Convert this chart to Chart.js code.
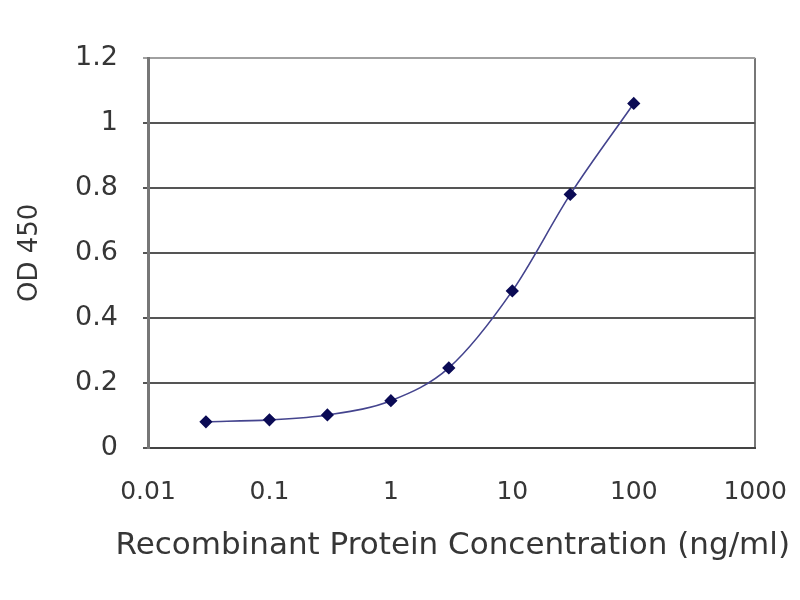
<!DOCTYPE html>
<html>
<head>
<meta charset="utf-8">
<script src="https://cdn.jsdelivr.net/npm/chart.js@4/dist/chart.umd.min.js"></script>
<style>
  html, body { margin: 0; padding: 0; background: #fff; }
  #wrap { width: 800px; height: 600px; }
</style>
</head>
<body>
<div id="wrap"><canvas id="myChart"></canvas></div>
<script>
const concentrations = [0.03, 0.1, 0.3, 1, 3, 10, 30, 100];
const od450 = [0.080, 0.086, 0.101, 0.145, 0.246, 0.483, 0.780, 1.060];
const xTicks = [0.01, 0.1, 1, 10, 100, 1000];
const yTicks = [0, 0.2, 0.4, 0.6, 0.8, 1, 1.2];

const TEXT_COLOR = '#363636';
const GRID_COLOR = '#555555';
const TOP_GRID_COLOR = '#a0a0a0';
const BORDER_COLOR = '#777777';
const POINT_COLOR = '#0b0b55';
const LINE_COLOR = '#44448e';
const FONT = 'DejaVu Sans';

const points = concentrations.map((c, i) => ({x: c, y: od450[i]}));

new Chart(document.getElementById('myChart'), {
  type: 'scatter',
  data: {
    datasets: [{
      data: points,
      showLine: true,
      borderColor: LINE_COLOR,
      borderWidth: 1.6,
      cubicInterpolationMode: 'monotone',
      pointStyle: 'rectRot',
      pointRadius: 5.5,
      pointHoverRadius: 5.5,
      pointBackgroundColor: POINT_COLOR,
      pointBorderColor: POINT_COLOR,
    }],
  },
  options: {
    responsive: true,
    maintainAspectRatio: false,
    animation: false,
    layout: {padding: {top: 58, right: 10, left: 0, bottom: 0}},
    plugins: {
      legend: {display: false},
      tooltip: {enabled: false},
      // x axis title, drawn as chart title so it can be wider than the plot
      title: {
        display: true,
        position: 'bottom',
        align: 'end',
        text: 'Recombinant Protein Concentration (ng/ml)',
        color: TEXT_COLOR,
        font: {family: FONT, size: 31, weight: 'normal'},
        padding: {top: 0, bottom: 35},
      },
    },
    scales: {
      x: {
        type: 'logarithmic',
        min: 0.01,
        max: 1000,
        afterBuildTicks: (scale) => {
          scale.ticks = xTicks.map((v) => ({value: v}));
        },
        afterFit: (scale) => { scale.height = 80; },
        ticks: {
          color: TEXT_COLOR,
          font: {family: FONT, size: 25},
          padding: 13,
          maxRotation: 0,
          autoSkip: false,
          callback: (value) => String(value),
        },
        grid: {
          drawTicks: true,
          tickLength: 17,
          tickColor: 'transparent',
          lineWidth: 2,
          color: (ctx) => (ctx.tick && ctx.tick.value === 1000 ? BORDER_COLOR : 'transparent'),
        },
        border: {display: true, color: '#444444', width: 2},
      },
      y: {
        type: 'linear',
        min: 0,
        max: 1.2,
        afterBuildTicks: (scale) => {
          scale.ticks = yTicks.map((v) => ({value: v}));
        },
        afterFit: (scale) => { scale.width = 148; },
        ticks: {
          color: TEXT_COLOR,
          font: {family: FONT, size: 27},
          padding: 25,
          callback: (value) => String(Number(value.toFixed(1))),
        },
        grid: {
          tickLength: 5,
          lineWidth: 2,
          color: (ctx) => {
            if (!ctx.tick) return GRID_COLOR;
            if (ctx.tick.value >= 1.2) return TOP_GRID_COLOR;
            return GRID_COLOR;
          },
        },
        border: {display: true, color: BORDER_COLOR, width: 3},
        title: {
          display: true,
          text: 'OD 450',
          color: TEXT_COLOR,
          font: {family: FONT, size: 26},
          padding: {top: 15, bottom: 15},
        },
      },
    },
  },
});
</script>
</body>
</html>
